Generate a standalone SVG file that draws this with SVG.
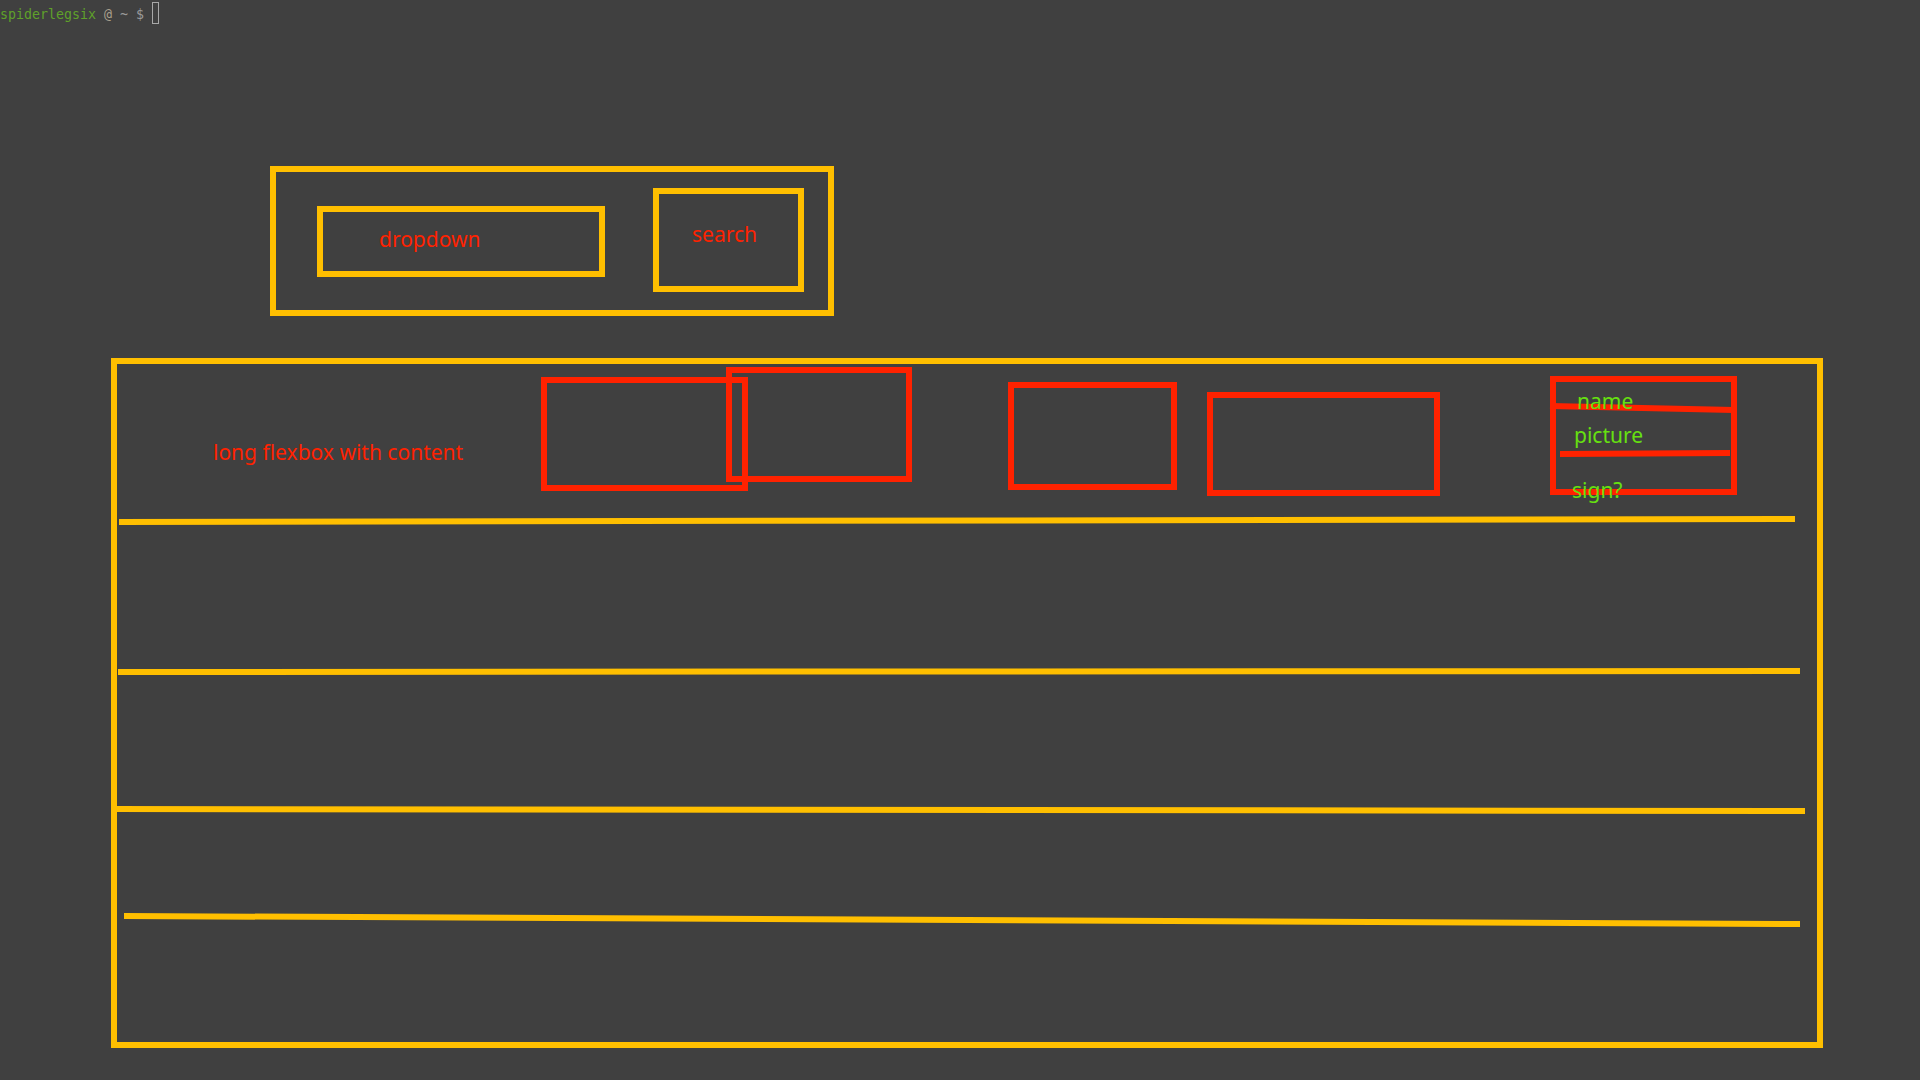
<svg xmlns="http://www.w3.org/2000/svg" width="1920" height="1080" viewBox="0 0 1920 1080">
<style>
.y{fill:none;stroke:#FFBF00;stroke-width:6}
.r{fill:none;stroke:#FF2200;stroke-width:6}
.yl{stroke:#FFBF00;stroke-width:6;stroke-linecap:butt}
.rl{stroke:#FF2200;stroke-width:6;stroke-linecap:butt}
.tr{fill:#FF2200;font-family:"Noto Sans","Open Sans",sans-serif;font-size:21px}
.tg{fill:#66E010;font-family:"Noto Sans","Open Sans",sans-serif;font-size:21px}
.term{font-family:"DejaVu Sans Mono","Liberation Mono",monospace;font-size:13.3px}
</style>
<rect x="0" y="0" width="1920" height="1080" fill="#404040"/>
<g id="prompt">
<text class="term" x="0" y="19" fill="#5FA02A">spiderlegsix</text>
<text class="term" x="104" y="19" fill="#A89F8C">@</text>
<text class="term" x="120" y="19" fill="#9A9A9A">~</text>
<text class="term" x="136" y="19" fill="#9A9A9A">$</text>
<rect x="152.5" y="2.5" width="6" height="21" fill="none" stroke="#A8A8A8" stroke-width="1"/>
</g>
<g id="header">
<rect class="y" x="273" y="169" width="558" height="144"/>
</g>
<g id="dropdown">
<rect class="y" x="320" y="209" width="282" height="65"/>
<text class="tr" x="379" y="247">dropdown</text>
</g>
<g id="search">
<rect class="y" x="656" y="191" width="145" height="98"/>
<text class="tr" x="692" y="242">search</text>
</g>
<g id="flexbox">
<rect class="y" x="114" y="361" width="1706" height="684"/>
<text class="tr" x="213" y="460">long flexbox with content</text>
</g>
<g id="box1"><rect class="r" x="544" y="380" width="201" height="108"/></g>
<g id="box2"><rect class="r" x="729" y="370" width="180" height="109"/></g>
<g id="box3"><rect class="r" x="1011" y="385" width="163" height="102"/></g>
<g id="box4"><rect class="r" x="1210" y="395" width="227" height="98"/></g>
<g id="connectors">
<line class="rl" x1="1550" y1="406" x2="1734" y2="410"/>
<line class="rl" x1="1560" y1="454" x2="1730" y2="453"/>
<line class="yl" x1="119" y1="522" x2="1795" y2="519"/>
<line class="yl" x1="118" y1="672" x2="1800" y2="671"/>
<line class="yl" x1="114" y1="809" x2="1805" y2="811"/>
<line class="yl" x1="124" y1="916" x2="1800" y2="924"/>
</g>
<g id="card">
<rect class="r" x="1553" y="379" width="181" height="113"/>
<text class="tg" x="1577" y="409">name</text>
<text class="tg" x="1574" y="443">picture</text>
<text class="tg" x="1572" y="498">sign?</text>
</g>
</svg>
